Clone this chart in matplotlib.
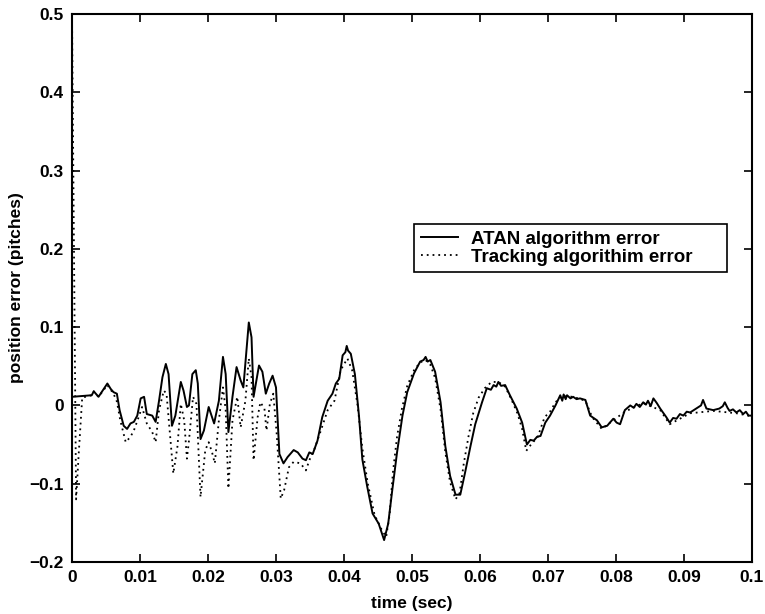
import matplotlib
matplotlib.use("Agg")
import matplotlib.pyplot as plt

plt.rcParams['font.family'] = ['Liberation Sans', 'DejaVu Sans']

# ATAN algorithm error (solid)
t_atan = [0, 0.0029, 0.0032, 0.0039, 0.0052, 0.0057, 0.0061, 0.0066, 0.0070, 0.0076,
          0.0081, 0.0086, 0.0091, 0.0096, 0.0101, 0.0106, 0.0110, 0.0118, 0.0123, 0.0128,
          0.0133, 0.0138, 0.0142, 0.0147, 0.0152, 0.0160, 0.0164, 0.0169, 0.0172, 0.0177,
          0.0182, 0.0185, 0.0189, 0.0194, 0.0201, 0.0209, 0.0216, 0.0222, 0.0226, 0.0230,
          0.0236, 0.0242, 0.0248, 0.0252, 0.0256, 0.0260, 0.0264, 0.0267, 0.0270, 0.0275,
          0.0280, 0.0285, 0.0290, 0.0295, 0.0300, 0.0305, 0.0311, 0.0317, 0.0326, 0.0332,
          0.0339, 0.0344, 0.0349, 0.0354, 0.0361, 0.0368, 0.0376, 0.0383, 0.0388, 0.0393,
          0.0398, 0.0402, 0.0404, 0.0406, 0.0410, 0.0416, 0.0422, 0.0427, 0.0434, 0.0442,
          0.0451, 0.0459, 0.0465, 0.0471, 0.0478, 0.0486, 0.0493, 0.0503, 0.0512, 0.0517,
          0.0520, 0.0523, 0.0527, 0.0534, 0.0542, 0.0549, 0.0556, 0.0564, 0.0571, 0.0578,
          0.0586, 0.0593, 0.0603, 0.0610, 0.0616, 0.0620, 0.0624, 0.0627, 0.0631, 0.0637,
          0.0644, 0.0654, 0.0662, 0.0669, 0.0674, 0.0679, 0.0684, 0.0689, 0.0696, 0.0703,
          0.0711, 0.0718, 0.0721, 0.0723, 0.0726, 0.0728, 0.0733, 0.0737, 0.0742, 0.0747,
          0.0755, 0.0762, 0.0772, 0.0779, 0.0787, 0.0796, 0.0801, 0.0806, 0.0813, 0.0821,
          0.0826, 0.0830, 0.0835, 0.0840, 0.0844, 0.0847, 0.0851, 0.0855, 0.0860, 0.0865,
          0.0874, 0.0879, 0.0884, 0.0889, 0.0894, 0.0899, 0.0904, 0.0909, 0.0918, 0.0925,
          0.0928, 0.0933, 0.0943, 0.0952, 0.0957, 0.0960, 0.0964, 0.0967, 0.0972, 0.0977,
          0.0982, 0.0987, 0.0991, 0.0995, 0.1000]
e_atan = [0.011, 0.013, 0.018, 0.011, 0.028, 0.021, 0.017, 0.015, -0.006, -0.026,
          -0.030, -0.023, -0.021, -0.013, 0.009, 0.011, -0.011, -0.013, -0.021, 0.006,
          0.036, 0.053, 0.040, -0.026, -0.013, 0.030, 0.019, -0.002, 0.000, 0.040,
          0.045, 0.028, -0.043, -0.032, -0.002, -0.023, 0.006, 0.062, 0.040, -0.034,
          0.011, 0.049, 0.032, 0.023, 0.064, 0.106, 0.087, 0.011, 0.026, 0.051,
          0.043, 0.015, 0.028, 0.038, 0.023, -0.062, -0.074, -0.066, -0.057, -0.060,
          -0.068, -0.070, -0.060, -0.062, -0.045, -0.015, 0.006, 0.015, 0.028, 0.034,
          0.064, 0.068, 0.076, 0.070, 0.066, 0.040, -0.013, -0.069, -0.103, -0.138,
          -0.151, -0.172, -0.151, -0.108, -0.060, -0.013, 0.017, 0.041, 0.056, 0.058,
          0.062, 0.056, 0.058, 0.043, 0.004, -0.052, -0.090, -0.114, -0.114, -0.086,
          -0.052, -0.024, 0.004, 0.022, 0.020, 0.026, 0.024, 0.030, 0.025, 0.026,
          0.013, -0.004, -0.022, -0.050, -0.044, -0.045, -0.040, -0.039, -0.022, -0.013,
          0.000, 0.013, 0.006, 0.014, 0.008, 0.013, 0.009, 0.011, 0.008, 0.009,
          0.007, -0.013, -0.019, -0.028, -0.026, -0.017, -0.022, -0.024, -0.006, 0.000,
          -0.003, 0.002, -0.002, 0.004, 0.001, 0.006, -0.001, 0.009, 0.003, -0.004,
          -0.015, -0.022, -0.016, -0.017, -0.011, -0.013, -0.008, -0.009, -0.004, 0.000,
          0.007, -0.004, -0.006, -0.004, -0.001, 0.004, -0.003, -0.007, -0.005, -0.009,
          -0.006, -0.011, -0.008, -0.013, -0.013]

# Tracking algorithm error (dotted)
t_trk = [0, 0.0006, 0.0010, 0.0015, 0.0029, 0.0032, 0.0039, 0.0052, 0.0061, 0.0066,
         0.0071, 0.0079, 0.0086, 0.0091, 0.0098, 0.0103, 0.0110, 0.0118, 0.0123, 0.0128,
         0.0135, 0.0139, 0.0149, 0.0155, 0.0160, 0.0165, 0.0169, 0.0172, 0.0178, 0.0183,
         0.0189, 0.0196, 0.0201, 0.0206, 0.0210, 0.0216, 0.0222, 0.0226, 0.0230, 0.0236,
         0.0243, 0.0248, 0.0255, 0.0260, 0.0264, 0.0267, 0.0273, 0.0277, 0.0283, 0.0286,
         0.0291, 0.0296, 0.0301, 0.0307, 0.0312, 0.0319, 0.0326, 0.0336, 0.0344, 0.0349,
         0.0356, 0.0366, 0.0376, 0.0386, 0.0395, 0.0405, 0.0412, 0.0420, 0.0427, 0.0435,
         0.0445, 0.0455, 0.0462, 0.0467, 0.0472, 0.0478, 0.0485, 0.0493, 0.0503, 0.0512,
         0.0520, 0.0527, 0.0534, 0.0542, 0.0549, 0.0556, 0.0564, 0.0570, 0.0576, 0.0583,
         0.0590, 0.0598, 0.0607, 0.0617, 0.0627, 0.0637, 0.0646, 0.0655, 0.0662, 0.0668,
         0.0675, 0.0685, 0.0695, 0.0703, 0.0711, 0.0720, 0.0737, 0.0755, 0.0765, 0.0779,
         0.0796, 0.0813, 0.0840, 0.0865, 0.0879, 0.0909, 0.0943, 0.0977, 0.1000]
e_trk = [0.500, -0.120, -0.060, 0.010, 0.013, 0.018, 0.011, 0.026, 0.015, 0.005,
         -0.019, -0.047, -0.040, -0.032, -0.015, -0.002, -0.023, -0.034, -0.047, -0.006,
         0.019, 0.015, -0.087, -0.053, 0.002, -0.019, -0.068, -0.045, 0.011, 0.002,
         -0.117, -0.057, -0.047, -0.060, -0.074, -0.019, 0.023, -0.006, -0.106, -0.019,
         0.011, -0.028, 0.006, 0.060, 0.036, -0.070, -0.015, 0.004, -0.004, -0.032,
         0.002, 0.015, -0.036, -0.119, -0.108, -0.079, -0.072, -0.074, -0.083, -0.070,
         -0.057, -0.032, -0.006, 0.006, 0.045, 0.060, 0.045, 0.000, -0.055, -0.100,
         -0.140, -0.158, -0.168, -0.140, -0.085, -0.040, -0.005, 0.025, 0.045, 0.055,
         0.058, 0.052, 0.035, -0.005, -0.060, -0.098, -0.120, -0.112, -0.075, -0.040,
         -0.010, 0.010, 0.022, 0.030, 0.030, 0.024, 0.008, -0.010, -0.030, -0.058,
         -0.050, -0.040, -0.015, -0.008, 0.004, 0.012, 0.011, 0.006, -0.015, -0.030,
         -0.019, -0.008, 0.003, -0.006, -0.024, -0.010, -0.007, -0.010, -0.014]

x_ticks = [0, 0.01, 0.02, 0.03, 0.04, 0.05, 0.06, 0.07, 0.08, 0.09, 0.1]
x_tick_labels = ['0', '0.01', '0.02', '0.03', '0.04', '0.05', '0.06', '0.07', '0.08', '0.09', '0.1']
y_ticks = [-0.2, -0.1, 0, 0.1, 0.2, 0.3, 0.4, 0.5]
y_tick_labels = ['\u22120.2', '\u22120.1', '0', '0.1', '0.2', '0.3', '0.4', '0.5']
legend_labels = ['ATAN algorithm error', 'Tracking algorithim error']

fig = plt.figure(figsize=(7.65, 6.14), dpi=100)
ax = fig.add_axes([72/765, 52/614, 680/765, 548/614])

ax.plot(t_atan, e_atan, color='black', lw=1.4, linestyle='-', label=legend_labels[0])
ax.plot(t_trk, e_trk, color='black', lw=1.3, linestyle=(0, (1, 2.2)), label=legend_labels[1])

ax.set_xlim(0, 0.1)
ax.set_ylim(-0.2, 0.5)
ax.set_xticks(x_ticks)
ax.set_xticklabels(x_tick_labels)
ax.set_yticks(y_ticks)
ax.set_yticklabels(y_tick_labels)
ax.tick_params(direction='in', top=True, right=True, length=6, width=1.2,
               labelsize=12.5, pad=6)
for lab in ax.get_xticklabels() + ax.get_yticklabels():
    lab.set_fontweight('bold')
for s in ax.spines.values():
    s.set_linewidth(1.5)

ax.set_xlabel('time (sec)', fontsize=12.5, fontweight='bold', labelpad=8)
ax.set_ylabel('position error (pitches)', fontsize=12.5, fontweight='bold', labelpad=4)

leg = ax.legend(loc='upper left', bbox_to_anchor=(0.503, 0.52, 0.46, 0.097), mode='expand',
                frameon=True, fancybox=False, edgecolor='black', framealpha=1,
                prop={'size': 13.5, 'weight': 'bold'}, handlelength=2.0,
                borderpad=0.35, labelspacing=0.05, handletextpad=0.7,
                borderaxespad=0)
leg.get_frame().set_linewidth(1.2)

fig.savefig('out.png', dpi=100)
